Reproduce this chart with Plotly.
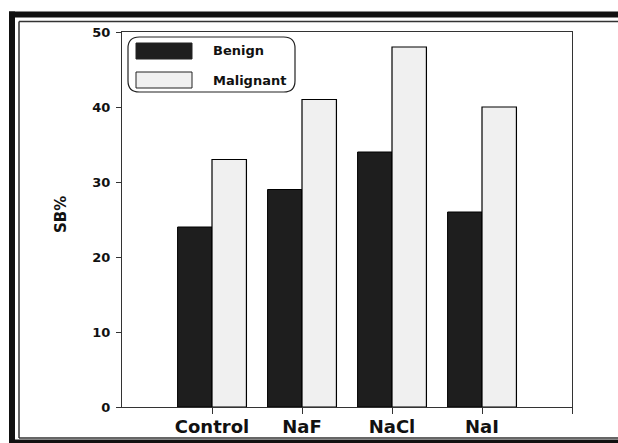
import plotly.graph_objects as go

# Data
categories = ["Control", "NaF", "NaCl", "NaI"]
benign = [24, 29, 34, 26]
malignant = [33, 41, 48, 40]
y_ticks = [0, 10, 20, 30, 40, 50]

FONT = "DejaVu Sans, Arial, sans-serif"
INK = "#111111"
x_pos = list(range(len(categories)))

fig = go.Figure()
fig.add_trace(go.Bar(
    x=x_pos, y=benign, name="Benign",
    marker=dict(color="#1e1e1e", line=dict(color="#000000", width=1)),
))
fig.add_trace(go.Bar(
    x=x_pos, y=malignant, name="Malignant",
    marker=dict(color="#f0f0f0", line=dict(color="#000000", width=1.2)),
))

fig.update_layout(
    width=618, height=443,
    margin=dict(l=122, r=46, t=32, b=36, autoexpand=False),
    paper_bgcolor="white", plot_bgcolor="white",
    barmode="group", bargap=0.235, bargroupgap=0,
    showlegend=False,
    font=dict(family=FONT, color=INK),
)

fig.update_xaxes(
    range=[-1, len(categories)],
    tickmode="array",
    tickvals=list(range(len(categories) + 1)),
    ticktext=categories + [""],
    ticks="outside", ticklen=6, tickwidth=1, tickcolor="#333333",
    tickfont=dict(size=18, family=FONT, weight="bold", color=INK),
    ticklabelstandoff=-3,
    showline=True, linecolor="#333333", linewidth=1, mirror=True,
    showgrid=False, zeroline=False, automargin=False,
)
fig.update_yaxes(
    range=[0, 50],
    tickvals=y_ticks,
    ticks="outside", ticklen=5, tickwidth=1, tickcolor="#333333",
    tickfont=dict(size=13, family=FONT, weight="bold", color=INK),
    ticklabelstandoff=3,
    showline=True, linecolor="#333333", linewidth=1, mirror=True,
    showgrid=False, zeroline=False, automargin=False,
)

# Helpers converting pixel positions to paper coordinates
PX_L, PX_R, PY_T, PY_B = 122, 572, 32, 407
def px(xp):
    return (xp - PX_L) / (PX_R - PX_L)
def py(yp):
    return (PY_B - yp) / (PY_B - PY_T)

# Axis title
fig.add_annotation(
    text="SB%", textangle=-90, xref="paper", yref="paper",
    x=px(61), y=py(214), xanchor="center", yanchor="middle", showarrow=False,
    font=dict(size=15, family=FONT, weight="bold", color=INK),
)

# Legend box with rounded corners
x0, x1, y0, y1, r = px(128), px(295), py(92), py(37), 0.025
rx = r
ry = r * (PX_R - PX_L) / (PY_B - PY_T)
path = (
    f"M {x0+rx},{y1} L {x1-rx},{y1} Q {x1},{y1} {x1},{y1-ry} "
    f"L {x1},{y0+ry} Q {x1},{y0} {x1-rx},{y0} "
    f"L {x0+rx},{y0} Q {x0},{y0} {x0},{y0+ry} "
    f"L {x0},{y1-ry} Q {x0},{y1} {x0+rx},{y1} Z"
)
fig.add_shape(type="path", path=path, xref="paper", yref="paper",
              line=dict(color="#222222", width=1.2), fillcolor="white")

legend_items = [("Benign", "#1e1e1e", 43, 59), ("Malignant", "#f0f0f0", 72, 88)]
for label, color, top, bot in legend_items:
    fig.add_shape(type="rect", xref="paper", yref="paper",
                  x0=px(136), x1=px(192), y0=py(bot), y1=py(top),
                  fillcolor=color, line=dict(color="#222222", width=1))
    fig.add_annotation(text=label, xref="paper", yref="paper",
                       x=px(211), y=py((top + bot) / 2),
                       xanchor="left", yanchor="middle",
                       showarrow=False,
                       font=dict(size=13, family=FONT, weight="bold", color=INK))

# Outer picture frame (open on the right): thick border plus thin inner rule
def frame_line(xa, ya, xb, yb, color, width):
    fig.add_shape(type="line", xref="paper", yref="paper",
                  x0=px(xa), y0=py(ya), x1=px(xb), y1=py(yb),
                  line=dict(color=color, width=width))

frame_line(12, 11.5, 12, 443, "#111111", 6)      # left thick
frame_line(9, 14.5, 620, 14.5, "#111111", 6)     # top thick
frame_line(9, 441.5, 620, 441.5, "#111111", 4)   # bottom thick
frame_line(19, 21.5, 19, 438, "#333333", 1.5)    # left thin
frame_line(19, 21.5, 620, 21.5, "#333333", 1.5)  # top thin
frame_line(19, 438, 620, 438, "#333333", 1.5)    # bottom thin

fig.write_html("out.html", config={"displayModeBar": False})
